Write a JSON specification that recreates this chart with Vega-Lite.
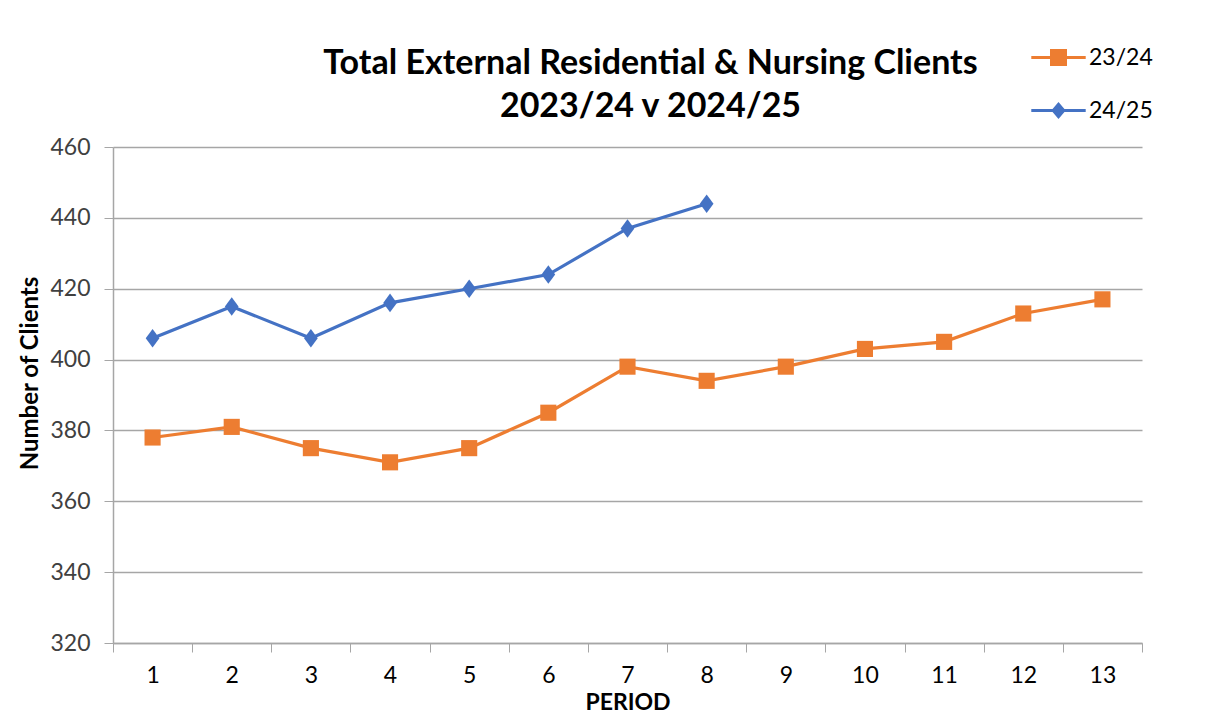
{
  "$schema": "https://vega.github.io/schema/vega-lite/v6.json",
  "width": 1029,
  "height": 496,
  "autosize": {"type": "none"},
  "padding": {"left": 113, "top": 147, "right": 71, "bottom": 74},
  "background": "white",
  "config": {"view": {"stroke": null}, "font": "Lato"},
  "title": {
    "text": ["Total External Residential & Nursing Clients", "2023/24 v 2024/25"],
    "font": "Lato",
    "fontSize": 34,
    "fontWeight": "bold",
    "color": "#000000",
    "anchor": "middle",
    "frame": "group",
    "dx": 23,
    "dy": 104,
    "offset": 26,
    "lineHeight": 43
  },
  "data": {
    "values": [
      {"period": 1, "series": "23/24", "clients": 378},
      {"period": 2, "series": "23/24", "clients": 381},
      {"period": 3, "series": "23/24", "clients": 375},
      {"period": 4, "series": "23/24", "clients": 371},
      {"period": 5, "series": "23/24", "clients": 375},
      {"period": 6, "series": "23/24", "clients": 385},
      {"period": 7, "series": "23/24", "clients": 398},
      {"period": 8, "series": "23/24", "clients": 394},
      {"period": 9, "series": "23/24", "clients": 398},
      {"period": 10, "series": "23/24", "clients": 403},
      {"period": 11, "series": "23/24", "clients": 405},
      {"period": 12, "series": "23/24", "clients": 413},
      {"period": 13, "series": "23/24", "clients": 417},
      {"period": 1, "series": "24/25", "clients": 406},
      {"period": 2, "series": "24/25", "clients": 415},
      {"period": 3, "series": "24/25", "clients": 406},
      {"period": 4, "series": "24/25", "clients": 416},
      {"period": 5, "series": "24/25", "clients": 420},
      {"period": 6, "series": "24/25", "clients": 424},
      {"period": 7, "series": "24/25", "clients": 437},
      {"period": 8, "series": "24/25", "clients": 444}
    ]
  },
  "encoding": {
    "x": {
      "field": "period",
      "type": "ordinal",
      "bandPosition": 0.5,
      "scale": {"type": "band", "paddingInner": 0, "paddingOuter": 0},
      "axis": {
        "title": "PERIOD",
        "titleFont": "Lato",
        "titleFontSize": 23,
        "titleFontWeight": "bold",
        "titleColor": "#000000",
        "titlePadding": 4,
        "labelAngle": 0,
        "labelFont": "Lato",
        "labelFontSize": 23,
        "labelColor": "#000000",
        "labelPadding": 12,
        "tickBand": "extent",
        "tickSize": 9,
        "tickColor": "#a6a6a6",
        "domainColor": "#a6a6a6",
        "domainWidth": 1.5,
        "grid": false
      }
    },
    "y": {
      "field": "clients",
      "type": "quantitative",
      "scale": {"domain": [320, 460], "nice": false, "zero": false},
      "axis": {
        "title": "Number of Clients",
        "titleFont": "Lato",
        "titleFontSize": 24,
        "titleFontWeight": "bold",
        "titleColor": "#000000",
        "titleX": -83,
        "titleY": 226,
        "titleAlign": "center",
        "titleBaseline": "middle",
        "values": [320, 340, 360, 380, 400, 420, 440, 460],
        "labelFont": "Lato",
        "labelFontSize": 23,
        "labelColor": "#404040",
        "labelPadding": 14,
        "tickSize": 9,
        "tickColor": "#a6a6a6",
        "domainColor": "#a6a6a6",
        "domainWidth": 1.5,
        "grid": true,
        "gridColor": "#a6a6a6",
        "gridWidth": 1.3
      }
    },
    "color": {
      "field": "series",
      "type": "nominal",
      "scale": {"domain": ["23/24", "24/25"], "range": ["#ED7D31", "#4472C4"]},
      "legend": {
        "title": null,
        "orient": "none",
        "legendX": 934,
        "legendY": -101,
        "padding": 0,
        "symbolSize": 289,
        "symbolType": "M-3.2,-0.18H3.2V0.18H-3.2Z M-1,-1H1V1H-1Z",
        "symbolStrokeWidth": 0,
        "labelFont": "Lato",
        "labelFontSize": 23,
        "labelColor": "#000000",
        "labelOffset": 19,
        "rowPadding": 29,
        "encode": {
          "symbols": {
            "update": {
              "shape": {"signal": "datum.value === '23/24' ? 'M-3.2,-0.18H3.2V0.18H-3.2Z M-1,-1H1V1H-1Z' : 'M-3.2,-0.18H3.2V0.18H-3.2Z M0,-1L0.85,0L0,1L-0.85,0Z'"},
              "fill": {"signal": "datum.value === '23/24' ? '#ED7D31' : '#4472C4'"},
              "strokeWidth": {"value": 0},
              "fillOpacity": {"value": 1},
              "opacity": {"value": 1}
            }
          }
        }
      }
    }
  },
  "layer": [
    {"mark": {"type": "line", "strokeWidth": 3.2}},
    {
      "transform": [{"filter": "datum.series === '23/24'"}],
      "mark": {"type": "point", "filled": true, "opacity": 1, "size": 260, "shape": "square"}
    },
    {
      "transform": [{"filter": "datum.series === '24/25'"}],
      "mark": {"type": "point", "filled": true, "opacity": 1, "size": 260, "shape": "M0,-1.15L0.85,0L0,1.15L-0.85,0Z"}
    }
  ]
}
